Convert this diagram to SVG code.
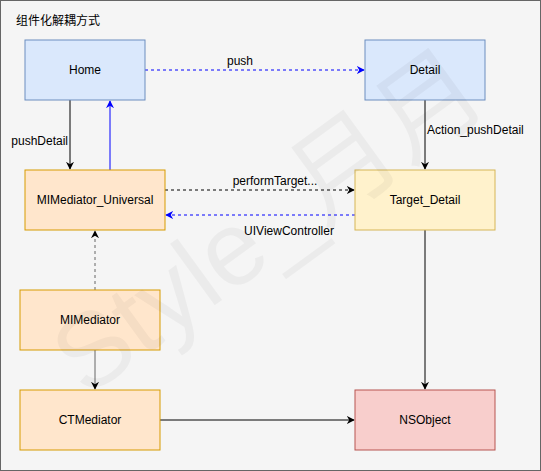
<svg xmlns="http://www.w3.org/2000/svg" width="541" height="471" viewBox="0 0 541 471">
<style>
text{font-family:"Liberation Sans",Arial,"Noto Sans CJK SC",sans-serif;font-size:12px;fill:#000}
.c{text-anchor:middle;dominant-baseline:central}
.blue{fill:#dae8fc;stroke:#6c8ebf}
.orange{fill:#ffe6cc;stroke:#d79b00}
.yellow{fill:#fff2cc;stroke:#d6b656}
.red{fill:#f8cecc;stroke:#b85450}
.e{fill:none;stroke-width:1}
</style>
<defs>
<marker id="ak" viewBox="0 0 10 10" refX="9" refY="5" markerWidth="8" markerHeight="8" markerUnits="userSpaceOnUse" orient="auto"><path d="M0,0 L10,5 L0,10 L3,5 Z" fill="#000"/></marker>
<marker id="ab" viewBox="0 0 10 10" refX="9" refY="5" markerWidth="8" markerHeight="8" markerUnits="userSpaceOnUse" orient="auto"><path d="M0,0 L10,5 L0,10 L3,5 Z" fill="#0000ff"/></marker>
<marker id="ag" viewBox="0 0 10 10" refX="9" refY="5" markerWidth="8" markerHeight="8" markerUnits="userSpaceOnUse" orient="auto"><path d="M0,0 L10,5 L0,10 L3,5 Z" fill="#000"/></marker>
</defs>
<rect x="0.5" y="0.5" width="540" height="470" fill="#f5f5f5" stroke="#666666"/>
<text x="16" y="25" style="font-size:12px">组件化解耦方式</text>
<g id="connectors">
<path class="e" d="M145,70 H364" stroke="#0000ff" stroke-dasharray="3,3" marker-end="url(#ab)"/>
<text x="240" y="61" class="c">push</text>
<path class="e" d="M70,100 V169" stroke="#000" marker-end="url(#ak)"/>
<text x="68" y="141" style="text-anchor:end;dominant-baseline:central">pushDetail</text>
<path class="e" d="M110,170 V101" stroke="#0000ff" marker-end="url(#ab)"/>
<path class="e" d="M425,100 V169" stroke="#000" marker-end="url(#ak)"/>
<text x="427" y="130" style="dominant-baseline:central">Action_pushDetail</text>
<path class="e" d="M165,190 H354" stroke="#000" stroke-dasharray="3,3" marker-end="url(#ak)"/>
<text x="275" y="181" class="c">performTarget...</text>
<path class="e" d="M355,215 H166" stroke="#0000ff" stroke-dasharray="3,3" marker-end="url(#ab)"/>
<text x="289" y="231" class="c">UIViewController</text>
<path class="e" d="M95,290 V231" stroke="#666666" stroke-dasharray="3,3" marker-end="url(#ag)"/>
<path class="e" d="M95,350 V389" stroke="#666666" stroke-width="1.5" marker-end="url(#ag)"/>
<path class="e" d="M425,230 V389" stroke="#000" marker-end="url(#ak)"/>
<path class="e" d="M160,420 H354" stroke="#000" marker-end="url(#ak)"/>
</g>
<g id="home"><rect x="25" y="40" width="120" height="60" class="blue"/><text x="85" y="70" class="c">Home</text></g>
<g id="detail"><rect x="365" y="40" width="120" height="60" class="blue"/><text x="425" y="70" class="c">Detail</text></g>
<g id="mimediator_universal"><rect x="25" y="170" width="140" height="60" class="orange"/><text x="95" y="200" class="c">MIMediator_Universal</text></g>
<g id="target_detail"><rect x="355" y="170" width="140" height="60" class="yellow"/><text x="425" y="200" class="c">Target_Detail</text></g>
<g id="mimediator"><rect x="20" y="290" width="140" height="60" class="orange"/><text x="90" y="320" class="c">MIMediator</text></g>
<g id="ctmediator"><rect x="20" y="390" width="140" height="60" class="orange"/><text x="90" y="420" class="c">CTMediator</text></g>
<g id="nsobject"><rect x="355" y="390" width="140" height="60" class="red"/><text x="425" y="420" class="c">NSObject</text></g>
<text x="268" y="258" transform="rotate(-36 268 222)" style="font-size:105px;text-anchor:middle;fill:#000;fill-opacity:0.04">Style_月月</text>
</svg>
